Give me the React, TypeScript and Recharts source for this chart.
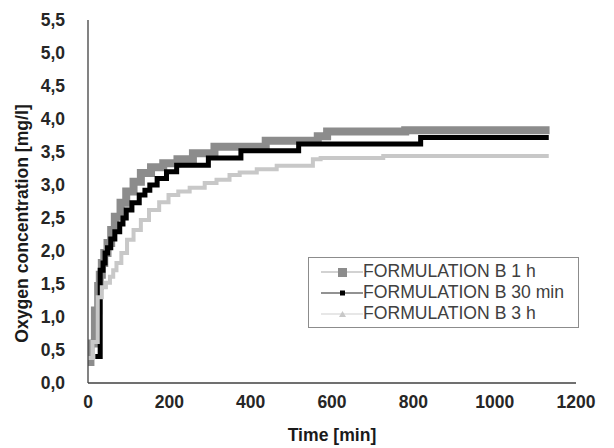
import { LineChart, Line, XAxis, YAxis, Legend, Label } from 'recharts'

const font = '"Liberation Sans", Arial, sans-serif'

const timeTicks = [0, 200, 400, 600, 800, 1000, 1200]
const oxygenTicks = [0, 0.5, 1, 1.5, 2, 2.5, 3, 3.5, 4, 4.5, 5, 5.5]

// FORMULATION B 1 h
const time1h = [0, 6, 17, 25, 29, 34, 40, 48, 57, 66, 80, 94, 112, 130, 155, 185, 220, 258, 311, 437, 565, 588, 780, 1135]
const oxygen1h = [0.32, 0.6, 1.1, 1.47, 1.64, 1.82, 1.97, 2.12, 2.32, 2.52, 2.73, 2.9, 3.05, 3.18, 3.27, 3.33, 3.39, 3.48, 3.58, 3.67, 3.74, 3.81, 3.83, 3.83]

// FORMULATION B 30 min
const time30 = [18, 30, 37, 42, 48, 56, 66, 78, 86, 94, 108, 126, 140, 152, 170, 193, 218, 296, 376, 518, 818, 1133]
const oxygen30 = [0.4, 1.71, 1.82, 1.97, 2.05, 2.18, 2.29, 2.41, 2.5, 2.62, 2.73, 2.85, 2.92, 3.0, 3.1, 3.2, 3.3, 3.41, 3.52, 3.62, 3.72, 3.72]

// FORMULATION B 3 h
const time3h = [0, 11, 24, 34, 44, 54, 62, 70, 82, 96, 112, 130, 150, 175, 198, 222, 250, 287, 316, 348, 373, 415, 464, 553, 572, 726, 1133]
const oxygen3h = [0.38, 0.62, 1.3, 1.45, 1.52, 1.61, 1.71, 1.82, 1.97, 2.17, 2.32, 2.47, 2.62, 2.74, 2.85, 2.9, 2.96, 3.03, 3.08, 3.15, 3.19, 3.24, 3.29, 3.39, 3.41, 3.44, 3.44]

const toPoints = (ts: number[], vs: number[]) => ts.map((t, i) => ({ t, v: vs[i] }))

const series = [
  { name: 'FORMULATION B 1 h', data: toPoints(time1h, oxygen1h), color: '#8c8c8c', width: 8, line: '#a6a6a6', marker: 'square8' },
  { name: 'FORMULATION B 30 min', data: toPoints(time30, oxygen30), color: '#000000', width: 5, line: '#262626', marker: 'square5' },
  { name: 'FORMULATION B 3 h', data: toPoints(time3h, oxygen3h), color: '#c8c8c8', width: 4, line: '#d0d0d0', marker: 'triangle' },
]

const fmt = (v: number) => v.toFixed(1).replace('.', ',')

function LegendSample({ marker, color, line }: { marker: string; color: string; line: string }) {
  return (
    <svg width={42} height={16} style={{ display: 'block' }}>
      <line x1={0} y1={8} x2={42} y2={8} stroke={line} strokeWidth={1.2} />
      {marker === 'square8' && <rect x={17} y={4} width={9} height={9} fill={color} />}
      {marker === 'square5' && <rect x={19} y={5.5} width={5} height={5} fill={color} />}
      {marker === 'triangle' && <polygon points="21.5,5 25,11 18,11" fill={color} />}
    </svg>
  )
}

function renderLegend() {
  return (
    <div
      style={{
        border: '1px solid #8c8c8c',
        background: '#fff',
        boxSizing: 'border-box',
        width: 271,
        height: 71,
        paddingTop: 3,
        fontFamily: font,
        fontSize: 17.6,
        color: '#404040',
      }}
    >
      {series.map((s) => (
        <div key={s.name} style={{ display: 'flex', alignItems: 'center', height: 21, paddingLeft: 12 }}>
          <LegendSample marker={s.marker} color={s.color} line={s.line} />
          <span style={{ whiteSpace: 'nowrap' }}>{s.name}</span>
        </div>
      ))}
    </div>
  )
}

export default function App() {
  const tickStyle = { fill: '#262626', fontSize: 17.5, fontWeight: 'bold', fontFamily: font }
  const titleStyle = { fill: '#1a1a1a', fontSize: 17.6, fontWeight: 'bold', fontFamily: font }
  return (
    <LineChart width={606} height={440} margin={{ top: 12, right: 38, left: 20, bottom: 5 }}>
      <XAxis
        type="number"
        dataKey="t"
        domain={[0, 1200]}
        ticks={timeTicks}
        interval={0}
        axisLine={{ stroke: '#404040', strokeWidth: 1.3 }}
        tickLine={false}
        tickSize={0}
        tickMargin={13}
        height={60}
        tick={tickStyle}
        allowDataOverflow
      >
        <Label value="Time [min]" position="center" dy={22} style={titleStyle} />
      </XAxis>
      <YAxis
        type="number"
        domain={[0, 5.5]}
        ticks={oxygenTicks}
        interval={0}
        tickFormatter={fmt}
        axisLine={{ stroke: '#404040', strokeWidth: 1.3 }}
        tickLine={false}
        tickSize={0}
        tickMargin={23}
        width={60}
        tick={tickStyle}
      >
        <Label
          value="Oxygen concentration [mg/l]"
          angle={-90}
          position="center"
          dx={-36}
          dy={22}
          style={{ ...titleStyle, textAnchor: 'middle' }}
        />
      </YAxis>
      {series.map((s) => (
        <Line
          key={s.name}
          data={s.data}
          dataKey="v"
          name={s.name}
          type="stepAfter"
          stroke={s.color}
          strokeWidth={s.width}
          strokeLinecap="butt"
          strokeLinejoin="miter"
          dot={false}
          activeDot={false}
          isAnimationActive={false}
        />
      ))}
      <Legend
        layout="vertical"
        align="center"
        verticalAlign="middle"
        content={renderLegend}
        wrapperStyle={{ left: 300, top: 249, width: 271, height: 71 }}
      />
    </LineChart>
  )
}
